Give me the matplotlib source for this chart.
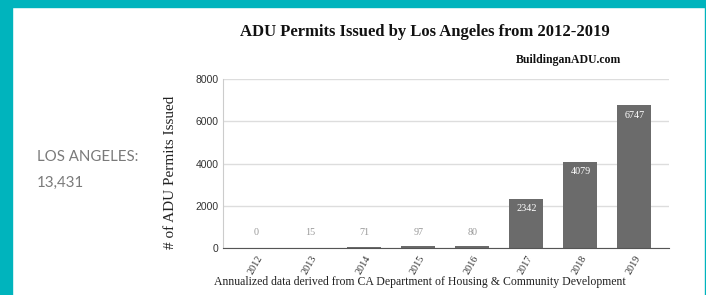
import matplotlib
matplotlib.use('agg')
import matplotlib.pyplot as plt
from matplotlib.patches import Rectangle

# data
years = ['2012', '2013', '2014', '2015', '2016', '2017', '2018', '2019']
permits = [0, 15, 71, 97, 80, 2342, 4079, 6747]
yticks = [0, 2000, 4000, 6000, 8000]
city = 'LOS ANGELES:'
city_total = '13,431'

teal = '#00b4bd'
serif = 'Liberation Serif'

fig = plt.figure(figsize=(7.06, 2.95), dpi=100)
fig.patch.set_facecolor('white')

# teal frame (left, top, right edge)
fig.patches.append(Rectangle((0, 0), 12 / 706, 1, transform=fig.transFigure,
                             color=teal, zorder=0))
fig.patches.append(Rectangle((0, 1 - 7 / 295), 1, 7 / 295, transform=fig.transFigure,
                             color=teal, zorder=0))
fig.patches.append(Rectangle((1 - 1.5 / 706, 0), 1.5 / 706, 1, transform=fig.transFigure,
                             color=teal, zorder=0))

ax = fig.add_axes([223 / 706, 47 / 295, 446 / 706, 169 / 295])
pos = list(range(len(years)))
ax.bar(pos, permits, width=0.63, color='#6b6b6b', zorder=3)

ax.set_xlim(-0.62, 7.64)
ax.set_ylim(0, 8000)
ax.set_yticks(yticks)
ax.set_yticklabels([str(t) for t in yticks], fontsize=7.5, family='Liberation Sans',
                   color='#333333')
ax.set_xticks(pos)
ax.set_xticklabels(years, rotation=60, ha='right', rotation_mode='anchor',
                   fontsize=7.3, family=serif, color='#333333')
ax.tick_params(axis='both', length=0)
ax.tick_params(axis='y', pad=3)
ax.tick_params(axis='x', pad=4)
ax.grid(axis='y', color='#dddddd', lw=1, zorder=0)
for s in ['top', 'right']:
    ax.spines[s].set_visible(False)
ax.spines['left'].set_color('#cccccc')
ax.spines['bottom'].set_color('#555555')
ax.spines['bottom'].set_zorder(4)

# value labels
for x, v in zip(pos, permits):
    if v > 1000:
        ax.annotate(str(v), (x, v), xytext=(0, -7), textcoords='offset points',
                    ha='center', va='center', fontsize=7.3, family=serif, color='white',
                    zorder=5)
    else:
        ax.annotate(str(v), (x, 0), xytext=(0, 11), textcoords='offset points',
                    ha='center', va='center', fontsize=7.3, family=serif, color='#999999',
                    zorder=5)

fig.text(170 / 706, 1 - 172 / 295, '# of ADU Permits Issued', rotation=90,
         ha='center', va='center', fontsize=11, family=serif, color='#222222')

fig.text(425 / 706, 1 - 32 / 295, 'ADU Permits Issued by Los Angeles from 2012-2019',
         ha='center', va='center', fontsize=12, fontweight='bold', family=serif,
         color='#111111')
fig.text(621 / 706, 1 - 60 / 295, 'BuildinganADU.com', ha='right', va='center',
         fontsize=8.5, fontweight='bold', family=serif, color='#111111')
fig.text(420 / 706, 1 - 282 / 295,
         'Annualized data derived from CA Department of Housing & Community Development',
         ha='center', va='center', fontsize=8.5, family=serif, color='#222222')

fig.text(37 / 706, 1 - 157 / 295, city, ha='left', va='center', fontsize=10.8,
         family='Lato', color='#7a7a7a')
fig.text(37 / 706, 1 - 183 / 295, city_total, ha='left', va='center', fontsize=10.8,
         family='Lato', color='#7a7a7a')

plt.savefig('out.png', dpi=100)
plt.close()
